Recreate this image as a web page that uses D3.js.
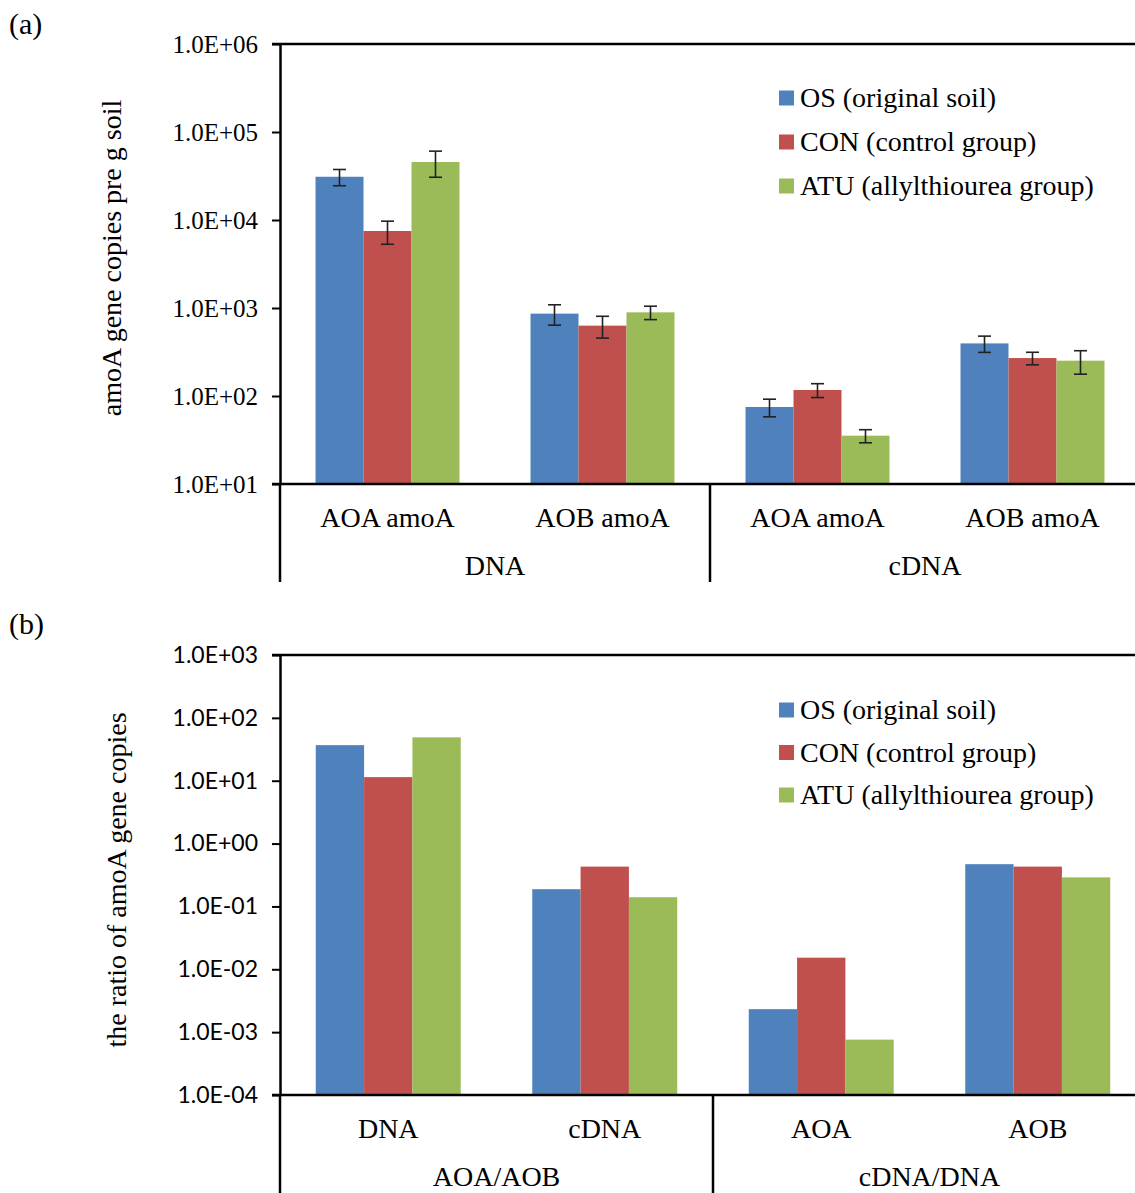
<!DOCTYPE html>
<html>
<head>
<meta charset="utf-8">
<script src="https://cdn.jsdelivr.net/npm/d3@7"></script>
<style>
  body { margin: 0; background: #fff; }
  svg { display: block; }
  .serif { font-family: "Liberation Serif", "Times New Roman", serif; }
  .sans { font-family: Lato, "Open Sans", sans-serif; }
</style>
</head>
<body>
<svg id="chart" width="1135" height="1193"></svg>
<script>
// series shared by both panels
const seriesNames = ['OS (original soil)', 'CON (control group)', 'ATU (allylthiourea group)'];
const seriesColors = ['#4F81BD', '#C0504D', '#9BBB59'];

// panel (a): gene copies
const aCategories = ['AOA amoA', 'AOB amoA', 'AOA amoA', 'AOB amoA'];
const aGroups = ['DNA', 'cDNA'];
const aOS = [31000, 863, 75, 396];
const aOSErr = [6500, 225, 17, 83];
const aCON = [7500, 630, 117, 270];
const aCONErr = [2200, 175, 21, 44];
const aATU = [45600, 893, 35.4, 252];
const aATUErr = [15000, 155, 6, 75];
const aTicks = [1e1, 1e2, 1e3, 1e4, 1e5, 1e6];

// panel (b): ratios
const bCategories = ['DNA', 'cDNA', 'AOA', 'AOB'];
const bGroups = ['AOA/AOB', 'cDNA/DNA'];
const bOS = [36.8, 0.188, 0.00232, 0.47];
const bCON = [11.4, 0.43, 0.0153, 0.43];
const bATU = [49, 0.14, 0.00076, 0.29];
const bTicks = [1e-4, 1e-3, 1e-2, 1e-1, 1e0, 1e1, 1e2, 1e3];

const svg = d3.select('#chart');

// 1.0E+06 style labels
function sci(v) {
  const e = Math.round(Math.log10(v));
  return '1.0E' + (e < 0 ? '-' : '+') + String(Math.abs(e)).padStart(2, '0');
}

function drawPanel(cfg) {
  const g = svg.append('g');
  const n = cfg.categories.length;

  const x = d3.scaleBand()
    .domain(d3.range(n))
    .range([cfg.left, cfg.left + cfg.groupWidth * n]);

  const xs = d3.scaleBand()
    .domain(seriesNames)
    .range([0, x.bandwidth()])
    .paddingInner(0)
    .paddingOuter(0.74);

  const y = d3.scaleLog()
    .domain(cfg.domain)
    .range([cfg.bottom, cfg.top]);

  // bars
  cfg.series.forEach((vals, si) => {
    g.selectAll(null)
      .data(vals)
      .enter()
      .append('rect')
      .attr('x', (d, i) => x(i) + xs(seriesNames[si]))
      .attr('y', d => y(d))
      .attr('width', xs.bandwidth())
      .attr('height', d => cfg.bottom - y(d))
      .attr('fill', seriesColors[si]);
  });

  // error bars
  if (cfg.errors) {
    cfg.series.forEach((vals, si) => {
      const errs = cfg.errors[si];
      const cx = i => x(i) + xs(seriesNames[si]) + xs.bandwidth() / 2;
      const eg = g.append('g').attr('stroke', '#222').attr('stroke-width', 1.6);
      vals.forEach((v, i) => {
        const hi = y(v + errs[i]);
        const lo = y(v - errs[i]);
        eg.append('line').attr('x1', cx(i)).attr('x2', cx(i)).attr('y1', hi).attr('y2', lo);
        eg.append('line').attr('x1', cx(i) - 6.5).attr('x2', cx(i) + 6.5).attr('y1', hi).attr('y2', hi);
        eg.append('line').attr('x1', cx(i) - 6.5).attr('x2', cx(i) + 6.5).attr('y1', lo).attr('y2', lo);
      });
    });
  }

  // y axis
  const yAxis = g.append('g')
    .attr('transform', `translate(${cfg.left},0)`)
    .call(d3.axisLeft(y).tickValues(cfg.ticks).tickFormat(sci).tickSize(8).tickSizeOuter(0).tickPadding(14));
  yAxis.select('.domain').attr('stroke', '#000').attr('stroke-width', 2.5);
  yAxis.selectAll('.tick line').attr('stroke', '#000').attr('stroke-width', 2);
  yAxis.selectAll('.tick text')
    .attr('class', cfg.tickFont)
    .attr('font-size', cfg.tickSize)
    .attr('fill', '#000');

  const right = cfg.left + cfg.groupWidth * n + 10;

  // top border and category axis line
  g.append('line').attr('x1', cfg.left - 8).attr('x2', right)
    .attr('y1', cfg.top).attr('y2', cfg.top)
    .attr('stroke', '#000').attr('stroke-width', 2.5);
  g.append('line').attr('x1', cfg.left - 8).attr('x2', right)
    .attr('y1', cfg.bottom).attr('y2', cfg.bottom)
    .attr('stroke', '#000').attr('stroke-width', 2.5);

  // multi-level category separators
  [0, n / 2, n].forEach(k => {
    g.append('line')
      .attr('x1', cfg.left + k * cfg.groupWidth).attr('x2', cfg.left + k * cfg.groupWidth)
      .attr('y1', cfg.bottom).attr('y2', cfg.bottom + 98)
      .attr('stroke', '#000').attr('stroke-width', 2.5);
  });

  g.selectAll(null)
    .data(cfg.categories)
    .enter()
    .append('text')
    .attr('class', 'serif')
    .attr('x', (d, i) => x(i) + x.bandwidth() / 2)
    .attr('y', cfg.bottom + 43)
    .attr('text-anchor', 'middle')
    .attr('font-size', 28)
    .text(d => d);

  g.selectAll(null)
    .data(cfg.groups)
    .enter()
    .append('text')
    .attr('class', 'serif')
    .attr('x', (d, i) => x(i * 2 + 1))
    .attr('y', cfg.bottom + 91)
    .attr('text-anchor', 'middle')
    .attr('font-size', 28)
    .text(d => d);

  // y title
  g.append('text')
    .attr('class', 'serif')
    .attr('transform', `translate(${cfg.titleX},${(cfg.top + cfg.bottom) / 2 + cfg.titleShift}) rotate(-90)`)
    .attr('text-anchor', 'middle')
    .attr('font-size', 28)
    .text(cfg.title);

  // panel letter
  g.append('text')
    .attr('class', 'serif')
    .attr('x', 9)
    .attr('y', cfg.letterY)
    .attr('font-size', 30)
    .text(cfg.letter);

  // legend
  const lg = g.append('g');
  seriesNames.forEach((name, i) => {
    const cy = cfg.legendTop + i * cfg.legendStep;
    lg.append('rect')
      .attr('x', 779).attr('y', cy - 7.5)
      .attr('width', 15).attr('height', 15)
      .attr('fill', seriesColors[i]);
    lg.append('text')
      .attr('class', 'serif')
      .attr('x', 800).attr('y', cy)
      .attr('dy', '0.33em')
      .attr('font-size', 28)
      .text(name);
  });
}

drawPanel({
  letter: '(a)', letterY: 34,
  categories: aCategories, groups: aGroups,
  series: [aOS, aCON, aATU], errors: [aOSErr, aCONErr, aATUErr],
  domain: [1e1, 1e6], ticks: aTicks,
  left: 280, groupWidth: 215, top: 44, bottom: 484,
  tickFont: 'serif', tickSize: 25,
  title: 'amoA gene copies pre g soil', titleX: 121, titleShift: -6,
  legendTop: 98, legendStep: 44
});

drawPanel({
  letter: '(b)', letterY: 634,
  categories: bCategories, groups: bGroups,
  series: [bOS, bCON, bATU], errors: null,
  domain: [1e-4, 1e3], ticks: bTicks,
  left: 280, groupWidth: 216.5, top: 655, bottom: 1095,
  tickFont: 'sans', tickSize: 23,
  title: 'the ratio of amoA gene copies', titleX: 126, titleShift: 5,
  legendTop: 710, legendStep: 42.5
});
</script>
</body>
</html>
